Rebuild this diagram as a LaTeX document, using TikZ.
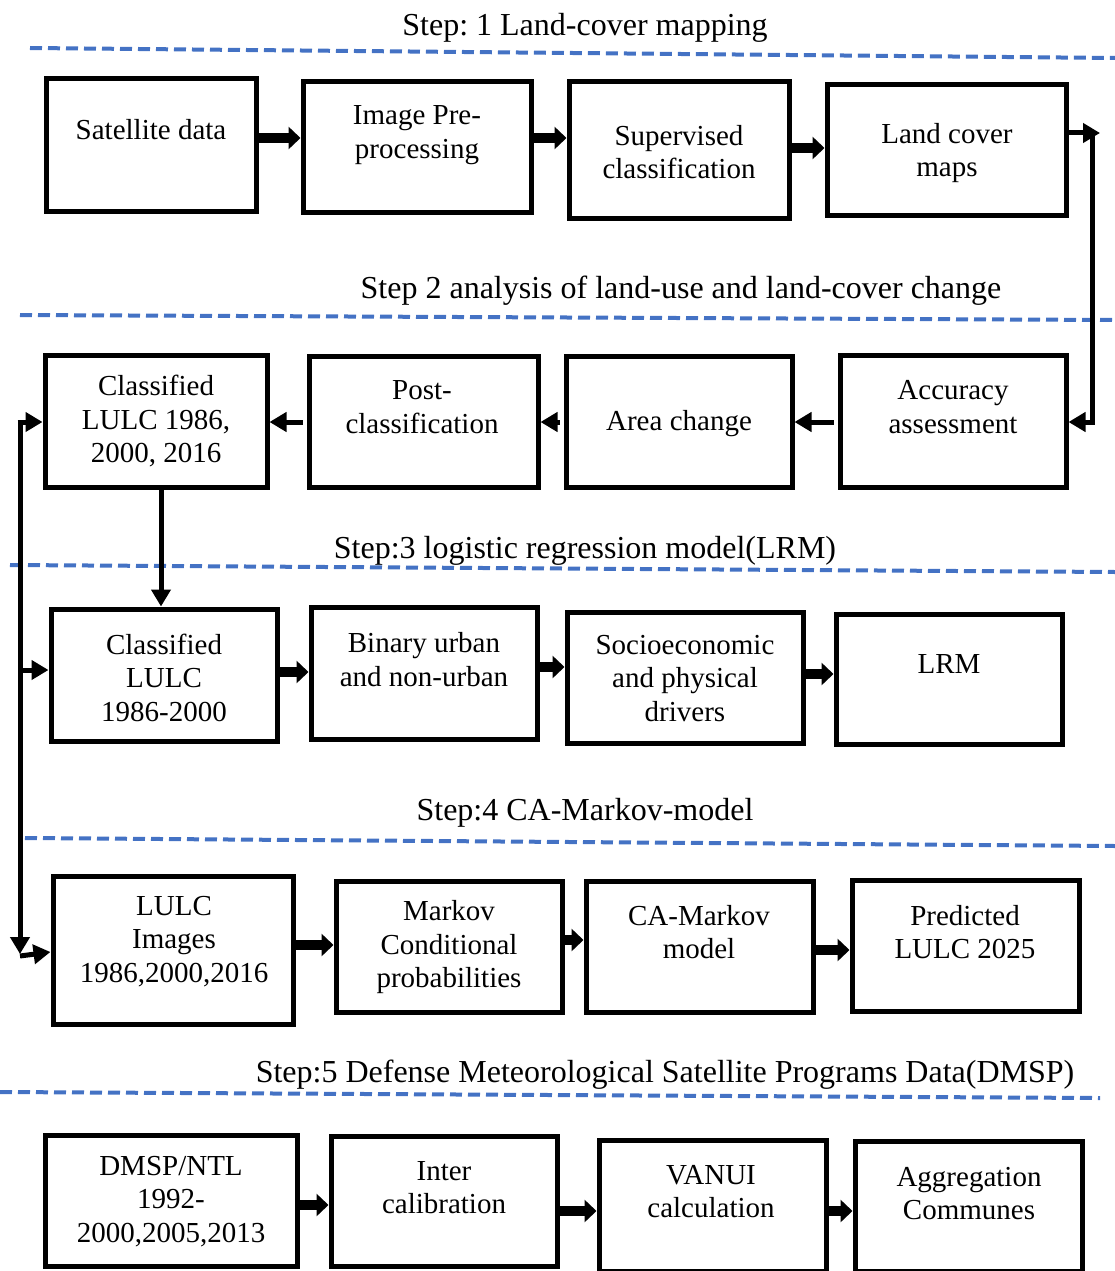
\documentclass[tikz,border=0pt]{standalone}
\usepackage{fontspec}
\setmainfont{Liberation Serif}
\usetikzlibrary{arrows.meta}
\definecolor{sepblue}{RGB}{68,114,196}
\frenchspacing
\begin{document}
\begin{tikzpicture}[x=1pt,y=-1pt,
 box/.style={draw,line width=5pt,inner sep=0pt},
 txt/.style={align=center,font=\fontsize{29}{33.5}\selectfont,inner sep=0pt,yshift=-1.5pt},
 ttl/.style={font=\fontsize{32}{36}\selectfont,inner sep=0pt,yshift=-3pt},
 fat/.style={line width=10pt,-{Triangle[length=12pt,width=22pt]}},
 med/.style={line width=5pt,-{Triangle[length=17pt,width=19pt]}},
 sepline/.style={draw=sepblue,line width=4pt,dash pattern=on 12pt off 6pt}]
\useasboundingbox (0,0) rectangle (1115,1271);

% separators
\draw[sepline] (30,48) -- (1115,58);
\draw[sepline] (20,315) -- (1115,320);
\draw[sepline] (10,565) -- (1115,572);
\draw[sepline] (25,838) -- (1115,846);
\draw[sepline] (0,1092) -- (1100,1098);

% titles
\node[ttl] (t1) at (585,25) {Step: 1 Land-cover mapping};
\node[ttl] (t2) at (681,288) {Step 2 analysis of land-use and land-cover change};
\node[ttl] (t3) at (585,548) {Step:3 logistic regression model(LRM)};
\node[ttl] (t4) at (585,810) {Step:4 CA-Markov-model};
\node[ttl] (t5) at (665,1072) {Step:5 Defense Meteorological Satellite Programs Data(DMSP)};

% row 1
\node[box,minimum width=210pt,minimum height=132pt] (sat) at (151,145) {};
\node[box,minimum width=228pt,minimum height=130pt] (pre) at (417,147) {};
\node[box,minimum width=220pt,minimum height=136pt] (sup) at (679,150) {};
\node[box,minimum width=239pt,minimum height=130pt] (lcm) at (946.5,150) {};
\node[txt] (sat-t) at (151,128) {Satellite data};
\node[txt] (pre-t) at (417,133.5) {Image Pre-\\processing};
\node[txt] (sup-t) at (679,150.5) {Supervised\\classification};
\node[txt] (lcm-t) at (947,151.5) {Land cover\\maps};

% row 2
\node[box,minimum width=222pt,minimum height=132pt] (cl1) at (156,421) {};
\node[box,minimum width=229pt,minimum height=131pt] (post) at (423.5,421.5) {};
\node[box,minimum width=226pt,minimum height=131pt] (area) at (679,421.5) {};
\node[box,minimum width=226pt,minimum height=132pt] (acc) at (953,421) {};
\node[txt] (cl1-t) at (156,420) {Classified\\LULC 1986,\\2000, 2016};
\node[txt] (post-t) at (422,405.5) {Post-\\classification};
\node[txt] (area-t) at (679,422) {Area change};
\node[txt] (acc-t) at (953,405.5) {Accuracy\\assessment};

% row 3
\node[box,minimum width=226pt,minimum height=132pt] (cl2) at (164,675) {};
\node[box,minimum width=226pt,minimum height=132pt] (bin) at (424,673) {};
\node[box,minimum width=236pt,minimum height=131pt] (soc) at (685,677.5) {};
\node[box,minimum width=226pt,minimum height=130pt] (lrm) at (949,679) {};
\node[txt] (cl2-t) at (164,676) {Classified\\LULC\\1986-2000};
\node[txt] (bin-t) at (424,658) {Binary urban\\and non-urban};
\node[txt] (soc-t) at (685,677) {Socioeconomic\\and physical\\drivers};
\node[txt] (lrm-t) at (949,662) {LRM};

% row 4
\node[box,minimum width=240pt,minimum height=148pt] (lulc) at (173,950) {};
\node[box,minimum width=226pt,minimum height=131pt] (mark) at (449,946.5) {};
\node[box,minimum width=227pt,minimum height=131pt] (cam) at (699.5,946.5) {};
\node[box,minimum width=227pt,minimum height=131pt] (pred) at (965.5,945.5) {};
\node[txt] (lulc-t) at (174,940) {LULC\\Images\\1986,2000,2016};
\node[txt] (mark-t) at (449,946) {Markov\\Conditional\\probabilities};
\node[txt] (cam-t) at (699,930.5) {CA-Markov\\model};
\node[txt] (pred-t) at (965,930.5) {Predicted\\LULC 2025};

% row 5
\node[box,minimum width=252pt,minimum height=131pt] (dmsp) at (171,1200.5) {};
\node[box,minimum width=226pt,minimum height=130pt] (inter) at (444,1201) {};
\node[box,minimum width=227pt,minimum height=131pt] (van) at (712.5,1205.5) {};
\node[box,minimum width=227pt,minimum height=130pt] (agg) at (968.5,1206) {};
\node[txt] (dmsp-t) at (171,1200) {DMSP/NTL\\1992-\\2000,2005,2013};
\node[txt] (inter-t) at (444,1186) {Inter\\calibration};
\node[txt] (van-t) at (711,1190) {VANUI\\calculation};
\node[txt] (agg-t) at (969,1192) {Aggregation\\Communes};

% row 1 arrows
\draw[fat] (sat.east |- 0,138) -- (pre.west |- 0,138);
\draw[fat] (pre.east |- 0,138) -- (sup.west |- 0,138);
\draw[fat] (sup.east |- 0,148) -- (lcm.west |- 0,148);

% right connector
\coordinate (rA) at (1100,133);
\coordinate (rT) at (1092,133);
\coordinate (rB) at (1092,422);
\draw[med] (lcm.east |- rA) -- (rA);
\draw[line width=5pt] (rT) -- (rB);
\draw[med] ([xshift=2.5pt]rB) -- (acc.east |- rB);

% row 2 arrows
\draw[med] ([xshift=-4pt]acc.west |- 0,422) -- (area.east |- 0,422);
\draw[med] ([xshift=-4pt]area.west |- 0,422) -- (post.east |- 0,422);
\draw[med] ([xshift=-4pt]post.west |- 0,422) -- (cl1.east |- 0,422);

% down arrow
\draw[med] (cl1.south -| 161,0) -- (cl2.north -| 161,0);

% left connector
\coordinate (l1) at (20,422);
\coordinate (l2) at (20,670);
\coordinate (l3) at (20,954);
\draw[med] ([yshift=-2.5pt]l1) -- (l3);
\draw[med] ([xshift=-2.5pt]l1) -- (cl1.west |- l1);
\draw[med] (l2) -- (cl2.west |- l2);
\draw[med] ([yshift=-2pt]l3) -- (lulc.west |- 0,952);

% row 3 arrows
\draw[fat] (cl2.east |- 0,672) -- (bin.west |- 0,672);
\draw[fat] (bin.east |- 0,667) -- (soc.west |- 0,667);
\draw[fat] (soc.east |- 0,674) -- (lrm.west |- 0,674);

% row 4 arrows
\draw[fat] (lulc.east |- 0,945) -- (mark.west |- 0,945);
\draw[fat] (mark.east |- 0,940) -- (cam.west |- 0,940);
\draw[fat] (cam.east |- 0,950) -- (pred.west |- 0,950);

% row 5 arrows
\draw[fat] (dmsp.east |- 0,1205) -- (inter.west |- 0,1205);
\draw[fat] (inter.east |- 0,1211) -- (van.west |- 0,1211);
\draw[fat] (van.east |- 0,1211) -- (agg.west |- 0,1211);
\end{tikzpicture}
\end{document}
